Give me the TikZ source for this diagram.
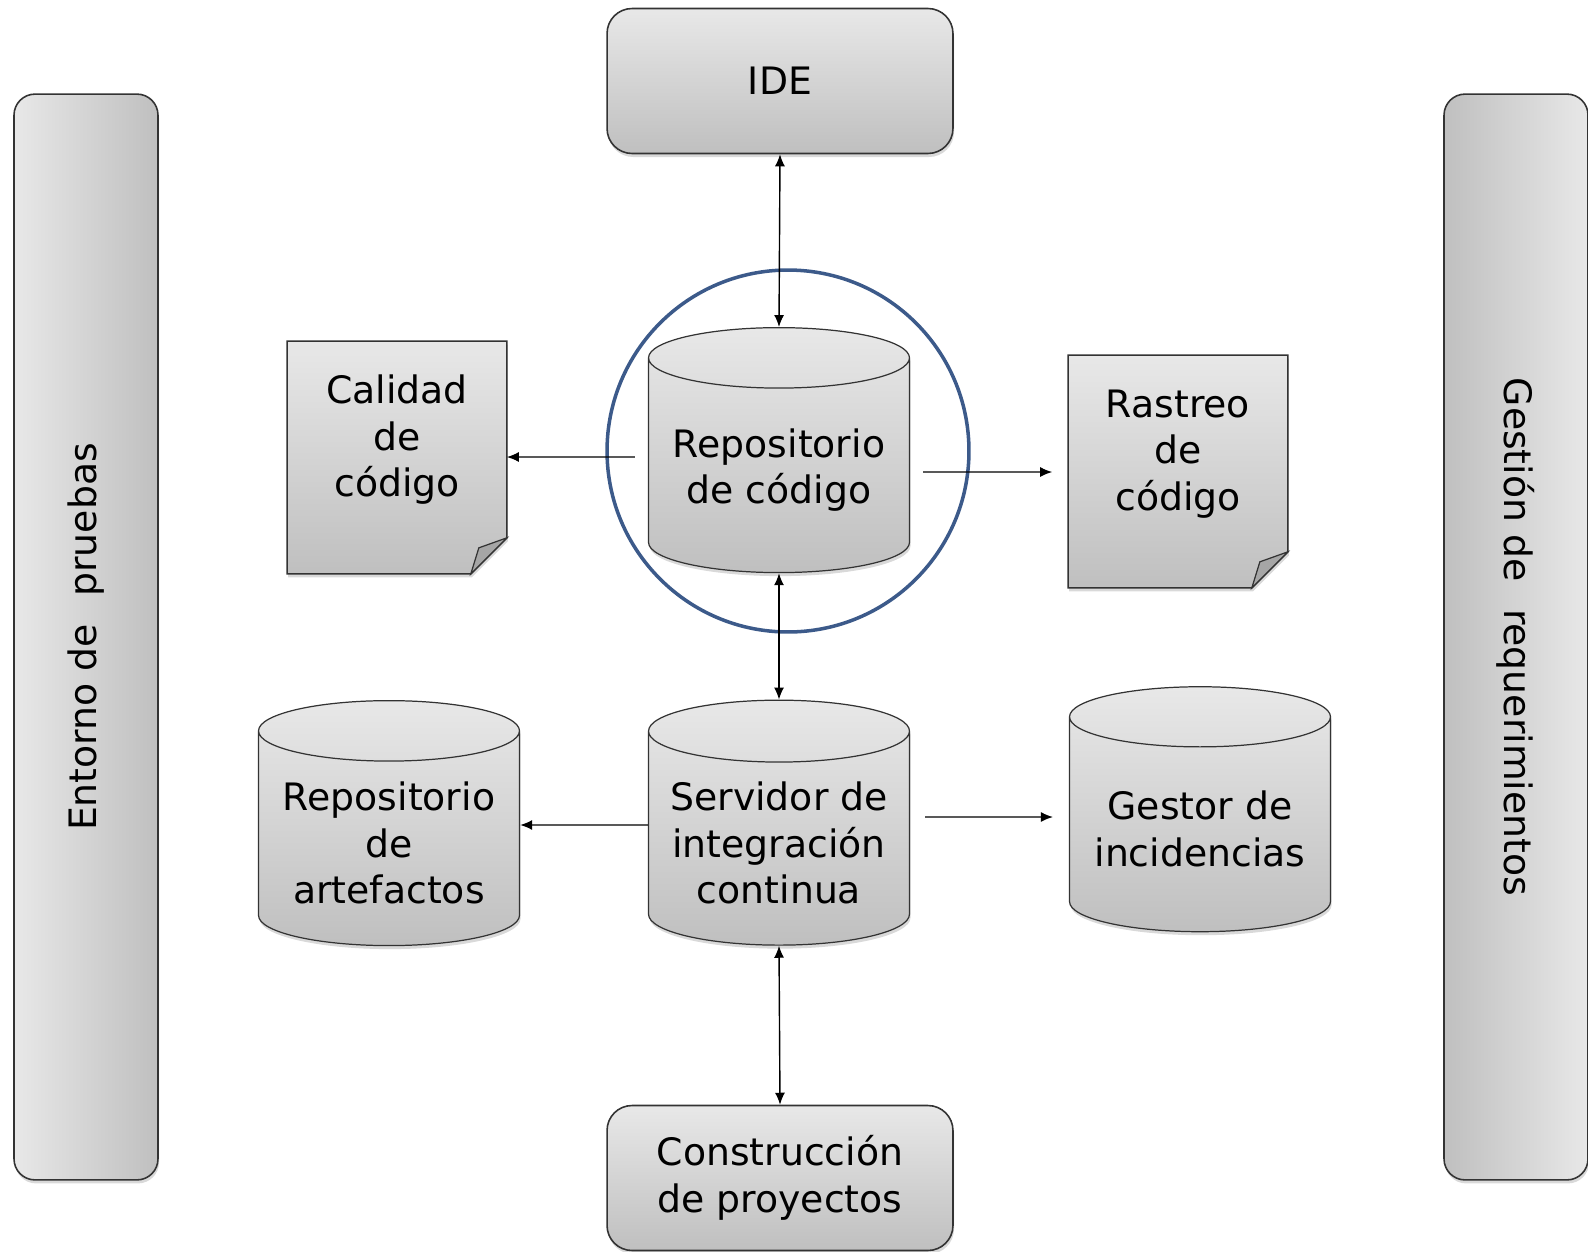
\documentclass[tikz,border=0pt]{standalone}
\usepackage{fontspec}
\setmainfont{DejaVu Sans}
\usetikzlibrary{arrows.meta,calc,shapes.geometric,shadows,backgrounds}
\definecolor{ringblue}{HTML}{3C5A8A}
\tikzset{
  base/.style={font=\fontsize{21.5}{26.5}\selectfont, align=center, text=black},
  softshadow/.style={drop shadow={shadow xshift=0.6pt, shadow yshift=-2pt, opacity=0.3}},
  greyfill/.style={top color=black!9, bottom color=black!25},
  box/.style={base, rectangle, rounded corners=0.5cm, draw=black!80, line width=0.9pt,
    greyfill, softshadow, minimum width=6.92cm, minimum height=2.9cm},
  bar/.style={base, rectangle, rounded corners=0.42cm, draw=black!80, line width=0.9pt,
    softshadow, minimum width=21.72cm, minimum height=2.88cm},
  db/.style={base, cylinder, shape border rotate=90, aspect=0.27, draw=black!80,
    line width=0.7pt, greyfill, softshadow, minimum width=5.22cm, minimum height=4.9cm},
  doctext/.style={base, rectangle, minimum width=4.38cm, minimum height=3.94cm},
  paper/.style={draw=black!80, line width=0.9pt, greyfill, softshadow},
  fold/.style={draw=black!80, line width=0.7pt, fill=black!35},
  ring/.style={circle, draw=ringblue, line width=2pt, minimum size=7.24cm},
  link/.style={line width=0.8pt, >={Latex[length=0.24cm, width=0.2cm]}}
}
% sheet of paper with a turned-down corner behind a text node
\newcommand{\paperbehind}[1]{%
  \draw[paper] (#1.north west) -- (#1.north east) -- ($(#1.south east)+(0,-1)$)
    -- ($(#1.south east)+(-36,35)$) -- ($(#1.south west)+(0,35)$) -- cycle;
  \draw[fold] ($(#1.south east)+(-36,35)$) -- ($(#1.south east)+(0,-1)$)
    -- ($(#1.south east)+(-28,9)$) -- cycle;
}

\begin{document}
\begin{tikzpicture}[x=0.02cm, y=-0.02cm]
\useasboundingbox (0,0) rectangle (1588,1251);

% side bars
\node[bar, rotate=90, left color=black!9, right color=black!25] (pruebas) at (86,637) {Entorno de\hspace{0.55cm}pruebas};
\node[bar, rotate=-90, left color=black!25, right color=black!9] (requisitos) at (1516,637) {Gestión de\hspace{0.55cm}requerimientos};

% central column
\node[box] (ide) at (780,81) {IDE};
\node[db] (repo) at (779,470) {Repositorio\\de código};
\node[db] (ci) at (779,843) {Servidor de\\integración\\continua};
\node[box] (build) at (780,1178) {Construcción\\de proyectos};

% sides
\node[doctext] (calidad) at (397,440) {Calidad\\de\\código};
\node[doctext] (rastreo) at (1178,454) {Rastreo\\de\\código};
\node[db] (artefactos) at (389,843) {Repositorio\\de\\artefactos};
\node[db] (gestor) at (1200,829) {Gestor de\\incidencias};

\begin{scope}[on background layer]
\paperbehind{calidad}
\paperbehind{rastreo}
\end{scope}

\node[ring] (foco) at (788,451) {};

% connectors
\draw[link, <->] (ide.south) -- (repo.north);
\draw[link, <->] (repo.south) -- (ci.north);
\draw[link, <->] (ci.south) -- (build.north);
\draw[link, ->] ($(repo.west)+(-13,-13)$) -- ($(calidad.east)+(0,17)$);
\draw[link, ->] ($(repo.east)+(13,2)$) -- ($(rastreo.west)+(-16,18)$);
\draw[link, ->] ($(ci.west)+(0,-18)$) -- ($(artefactos.east)+(0,-18)$);
\draw[link, ->] ($(ci.east)+(15,-26)$) -- ($(gestor.west)+(-16,-12)$);
\end{tikzpicture}
\end{document}
